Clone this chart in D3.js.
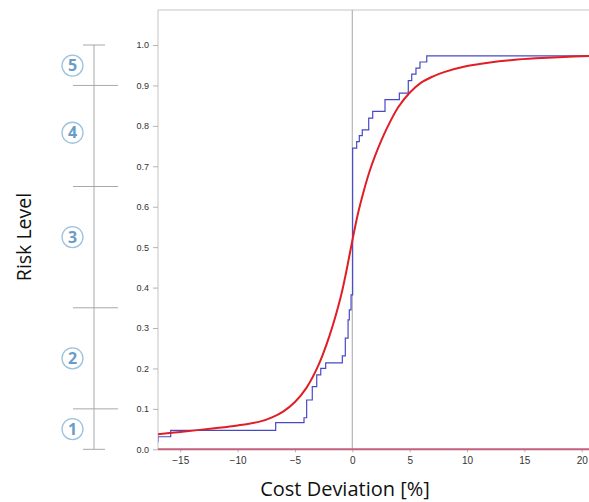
<!DOCTYPE html>
<html lang="en">
<head>
    <meta charset="UTF-8">
    <title>Risk Level vs Cost Deviation</title>
    <script src="https://d3js.org/d3.v7.min.js"></script>
    <style>
        body { margin: 0; background: #fff; }
    </style>
</head>
<body>
    <svg id="chart" width="589" height="502"></svg>

    <script>
        // empirical steps (cost deviation %, cumulative share)
        var stepX = [-17.5, -16.95, -15.83, -6.68, -4.21, -3.98, -3.49, -3.10, -2.75, -2.32,
                     -0.87, -0.61, -0.37, -0.26, -0.11, 0.03, 0.38, 0.61, 0.87, 1.43,
                     1.78, 2.85, 4.10, 4.88, 5.18, 5.55, 5.90, 6.49, 22];
        var stepP = [0.019, 0.031, 0.047, 0.066, 0.078, 0.122, 0.155, 0.184, 0.200, 0.214,
                     0.231, 0.275, 0.320, 0.345, 0.382, 0.745, 0.761, 0.776, 0.790, 0.819,
                     0.836, 0.865, 0.881, 0.912, 0.928, 0.943, 0.958, 0.973, 0.973];

        // fitted curve
        var fitX = [-17, -15, -12, -10, -8, -7, -6, -5, -4, -3, -2, -1, -0.5, 0,
                    0.5, 1, 1.5, 2, 3, 4, 5, 6, 7, 8, 10, 12, 14, 16, 18, 21];
        var fitP = [0.037, 0.043, 0.052, 0.059, 0.069, 0.079, 0.094, 0.117, 0.152, 0.205, 0.280, 0.378, 0.443, 0.516,
                    0.584, 0.639, 0.687, 0.727, 0.793, 0.846, 0.882, 0.907, 0.922, 0.933, 0.948, 0.957, 0.963, 0.967, 0.970, 0.973];

        var yTicks = [0, 0.1, 0.2, 0.3, 0.4, 0.5, 0.6, 0.7, 0.8, 0.9, 1.0];
        var xTicks = [-15, -10, -5, 0, 5, 10, 15, 20];

        // risk level bands
        var levelBounds = [0, 0.1, 0.35, 0.65, 0.9, 1.0];
        var levelNames = ["1", "2", "3", "4", "5"];
        var levelPos = [0.05, 0.225, 0.525, 0.783, 0.949];

        var svg = d3.select("#chart");
        var plotL = 158, plotR = 589, plotT = 10, plotB = 449.3;

        var x = d3.scaleLinear().domain([-17, 21]).range([157.3, 593.2]);
        var y = d3.scaleLinear().domain([0, 1]).range([plotB, 45]);

        svg.append("defs").append("clipPath").attr("id", "plot")
            .append("rect").attr("x", plotL).attr("y", plotT)
            .attr("width", plotR - plotL).attr("height", plotB - plotT + 2);

        // frame
        svg.append("line").attr("x1", plotL).attr("x2", plotL).attr("y1", plotT).attr("y2", plotB)
            .attr("stroke", "#c4c4c4");
        svg.append("line").attr("x1", plotL).attr("x2", plotR).attr("y1", plotT).attr("y2", plotT)
            .attr("stroke", "#c4c4c4");
        svg.append("line").attr("x1", x(0)).attr("x2", x(0)).attr("y1", plotT).attr("y2", plotB)
            .attr("stroke", "#b4b4b4").attr("stroke-width", 1.2);

        // axes
        var yAxis = svg.append("g").attr("transform", "translate(" + plotL + ",0)")
            .call(d3.axisLeft(y).tickValues(yTicks).tickFormat(d3.format(".1f"))
                .tickSize(5).tickPadding(4));
        var xAxis = svg.append("g").attr("transform", "translate(0," + plotB + ")")
            .call(d3.axisBottom(x).tickValues(xTicks).tickFormat(d3.format("d"))
                .tickSize(3).tickPadding(5));
        [yAxis, xAxis].forEach(function(g) {
            g.select(".domain").remove();
            g.selectAll("line").attr("stroke", "#b4b4b4");
            g.selectAll("text").attr("fill", "#333").attr("font-size", "9px")
                .attr("font-family", "'Liberation Sans', Arial, sans-serif");
        });
        xAxis.selectAll("text").attr("font-size", "10px");

        var plot = svg.append("g").attr("clip-path", "url(#plot)");

        // base line at zero share
        plot.append("line").attr("x1", plotL).attr("x2", plotR)
            .attr("y1", y(0)).attr("y2", y(0))
            .attr("stroke", "#c4607e").attr("stroke-width", 2);

        var stepLine = d3.line()
            .x(function(d, i) { return x(stepX[i]); })
            .y(function(d, i) { return y(stepP[i]); })
            .curve(d3.curveStepAfter);
        plot.append("path").datum(stepX)
            .attr("d", stepLine)
            .attr("fill", "none")
            .attr("stroke", "#4848c4")
            .attr("stroke-width", 1.2);

        var fitLine = d3.line()
            .x(function(d, i) { return x(fitX[i]); })
            .y(function(d, i) { return y(fitP[i]); })
            .curve(d3.curveCatmullRom.alpha(0.5));
        plot.append("path").datum(fitX)
            .attr("d", fitLine)
            .attr("fill", "none")
            .attr("stroke", "#e01e26")
            .attr("stroke-width", 2);

        // risk level scale on the left
        var sx = 94;
        svg.append("line").attr("x1", sx).attr("x2", sx)
            .attr("y1", y(1)).attr("y2", y(0)).attr("stroke", "#a8a8a8");
        svg.selectAll(".band").data(levelBounds).join("line")
            .attr("class", "band")
            .attr("x1", function(d, i) { return (i == 0 || i == levelBounds.length - 1) ? 83 : 73; })
            .attr("x2", function(d, i) { return (i == 0 || i == levelBounds.length - 1) ? 105 : 118; })
            .attr("y1", function(d) { return y(d); })
            .attr("y2", function(d) { return y(d); })
            .attr("stroke", "#a8a8a8");

        var marks = svg.selectAll(".level").data(levelNames).join("g")
            .attr("class", "level")
            .attr("transform", function(d, i) { return "translate(72.5," + y(levelPos[i]) + ")"; });
        marks.append("circle").attr("r", 10.5)
            .attr("fill", "#fff").attr("stroke", "#9cc2dc").attr("stroke-width", 1.3);
        marks.append("text").text(function(d) { return d; })
            .attr("text-anchor", "middle").attr("dy", "0.36em")
            .attr("font-family", "'Open Sans', sans-serif")
            .attr("font-size", "16px").attr("font-weight", "bold")
            .attr("fill", "#6a9cc8");

        // titles
        svg.append("text")
            .attr("transform", "translate(31,237) rotate(-90)")
            .attr("text-anchor", "middle")
            .attr("font-family", "'Open Sans', sans-serif")
            .attr("font-size", "19.5px").attr("fill", "#111")
            .text("Risk Level");
        svg.append("text")
            .attr("x", 345).attr("y", 496)
            .attr("text-anchor", "middle")
            .attr("font-family", "'Open Sans', sans-serif")
            .attr("font-size", "20px").attr("fill", "#111")
            .text("Cost Deviation [%]");
    </script>
</body>
</html>
